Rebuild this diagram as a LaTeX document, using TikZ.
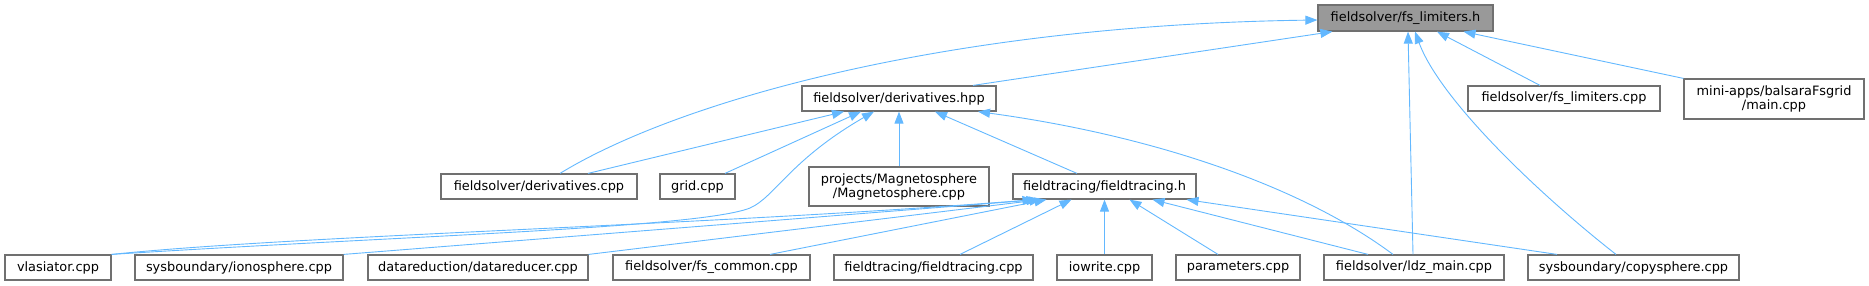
\documentclass[tikz,border=0pt]{standalone}
\usepackage{fontspec}
\setmainfont{DejaVu Sans}
\usetikzlibrary{arrows.meta,calc}
\definecolor{edgeblue}{HTML}{63B8FF}
\definecolor{boxgray}{HTML}{707070}
\definecolor{focusgray}{HTML}{999999}
\begin{document}
\begin{tikzpicture}[x=1pt,y=-1pt,
  file/.style={draw=boxgray,line width=1.2pt,fill=white,minimum height=25pt,inner sep=0pt,
    font=\fontsize{12.9}{14}\selectfont,align=center},
  dep/.style={edgeblue,line width=0.9pt,-{Triangle[length=12pt,width=9pt]}}]
  \useasboundingbox (0,0) rectangle (1869,285);
  \node[file,fill=focusgray,minimum width=175pt,minimum height=26pt] (lim) at (1405.5,18) {fieldsolver/fs\_limiters.h};
  \node[file,minimum width=194pt] (dhpp) at (899,98.5) {fieldsolver/derivatives.hpp};
  \node[file,minimum width=192pt] (flcpp) at (1564,98.5) {fieldsolver/fs\_limiters.cpp};
  \node[file,minimum width=180pt,minimum height=40pt] (bal) at (1774,99) {mini-apps/balsaraFsgrid\\/main.cpp};
  \node[file,minimum width=196pt] (dcpp) at (539,186.5) {fieldsolver/derivatives.cpp};
  \node[file,minimum width=75pt] (grid) at (697.5,186.5) {grid.cpp};
  \node[file,minimum width=180pt,minimum height=39pt] (mag) at (899,186.5) {projects/Magnetosphere\\/Magnetosphere.cpp};
  \node[file,minimum width=183pt] (fth) at (1104.5,186.5) {fieldtracing/fieldtracing.h};
  \node[file,minimum width=106pt] (vla) at (58,267.5) {vlasiator.cpp};
  \node[file,minimum width=208pt] (iono) at (239,267.5) {sysboundary/ionosphere.cpp};
  \node[file,minimum width=220pt] (dred) at (478,267.5) {datareduction/datareducer.cpp};
  \node[file,minimum width=197pt] (fsc) at (711.5,267.5) {fieldsolver/fs\_common.cpp};
  \node[file,minimum width=199pt] (ftcpp) at (933.5,267.5) {fieldtracing/fieldtracing.cpp};
  \node[file,minimum width=95pt] (iow) at (1104.5,267.5) {iowrite.cpp};
  \node[file,minimum width=124pt] (par) at (1238,267.5) {parameters.cpp};
  \node[file,minimum width=180pt] (ldz) at (1414,267.5) {fieldsolver/ldz\_main.cpp};
  \node[file,minimum width=211pt] (cps) at (1633.5,267.5) {sysboundary/copysphere.cpp};
  \draw[dep] ($(dcpp.north)+(21,0)$) .. controls (680,100) and (950,25) .. ($(lim.west)+(0,2)$);
  \draw[dep] ($(dhpp.north)+(74,0)$) -- ($(lim.south west)+(15,0)$);
  \draw[dep] ($(ldz.north)+(-1,0)$) -- ($(lim.south)+(2.5,0)$);
  \draw[dep] ($(cps.north)+(-17.5,0)$) .. controls (1540,195) and (1440,100) .. ($(lim.south)+(9.5,0)$);
  \draw[dep] ($(flcpp.north)+(-24,0)$) -- ($(lim.south)+(31.5,0)$);
  \draw[dep] (bal.north west) -- ($(lim.south)+(58,0)$);
  \draw[dep] ($(dcpp.north)+(49,0)$) -- ($(dhpp.south)+(-55,0)$);
  \draw[dep] ($(grid.north)+(27.5,0)$) -- ($(dhpp.south)+(-38,0)$);
  \draw[dep] (vla.north east) .. controls (400,236) and (700,228) .. (750,208)
    .. controls (775,197) and (790,160) .. ($(dhpp.south)+(-25,0)$);
  \draw[dep] (mag.north) -- (dhpp.south);
  \draw[dep] ($(fth.north)+(-27.5,0)$) -- ($(dhpp.south)+(36,0)$);
  \draw[dep] ($(ldz.north)+(-21,0)$) .. controls (1300,185) and (1150,135) .. ($(dhpp.south)+(79,0)$);
  \draw[dep] (vla.north east) .. controls (300,235) and (700,226) .. ($(fth.south)+(-70,0)$);
  \draw[dep] (iono.north east) -- ($(fth.south)+(-66,0)$);
  \draw[dep] (dred.north east) -- ($(fth.south)+(-63,0)$);
  \draw[dep] ($(fsc.north)+(58.5,0)$) -- ($(fth.south)+(-58,0)$);
  \draw[dep] ($(ftcpp.north)+(26.5,0)$) -- ($(fth.south)+(-33,0)$);
  \draw[dep] (iow.north) -- (fth.south);
  \draw[dep] ($(par.north)+(-20,0)$) -- ($(fth.south)+(25,0)$);
  \draw[dep] ($(ldz.north)+(-46,0)$) -- ($(fth.south)+(48,0)$);
  \draw[dep] ($(cps.north)+(-76.5,0)$) -- ($(fth.south)+(82,0)$);
\end{tikzpicture}
\end{document}
